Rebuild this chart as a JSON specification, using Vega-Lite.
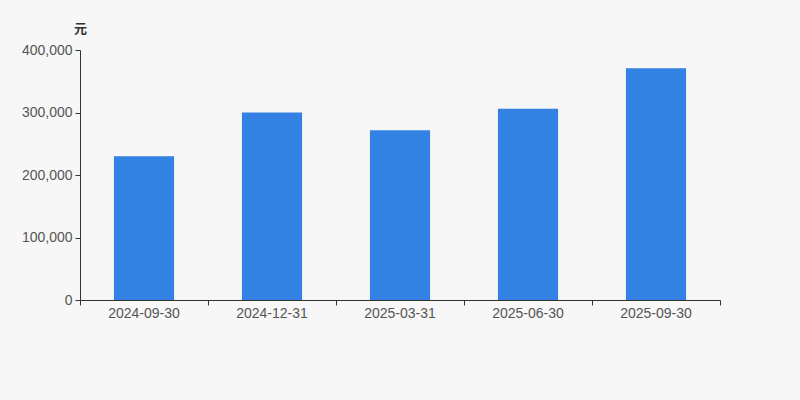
{
  "$schema": "https://vega.github.io/schema/vega-lite/v6.json",
  "width": 640,
  "height": 250,
  "autosize": "none",
  "padding": {"left": 80, "top": 50, "right": 80, "bottom": 100},
  "background": "#f7f7f7",
  "data": {
    "values": [
      {"date": "2024-09-30", "value": 230000},
      {"date": "2024-12-31", "value": 300000},
      {"date": "2025-03-31", "value": 271500},
      {"date": "2025-06-30", "value": 306000},
      {"date": "2025-09-30", "value": 371000}
    ]
  },
  "config": {
    "view": {"stroke": null},
    "font": "Liberation Sans"
  },
  "mark": {"type": "bar", "color": "#3381e3", "width": {"band": 0.47}},
  "encoding": {
    "x": {
      "field": "date",
      "type": "ordinal",
      "sort": null,
      "scale": {"paddingInner": 0, "paddingOuter": 0},
      "axis": {
        "title": null,
        "labelAngle": 0,
        "labelFontSize": 14,
        "labelColor": "#555",
        "labelPadding": 1,
        "domainColor": "#333",
        "tickColor": "#333",
        "tickSize": 5,
        "bandPosition": 1,
        "tickExtra": true
      }
    },
    "y": {
      "field": "value",
      "type": "quantitative",
      "scale": {"domain": [0, 400000]},
      "axis": {
        "title": "元",
        "titleAngle": 0,
        "titleX": 0,
        "titleY": -22,
        "titleAlign": "center",
        "titleBaseline": "middle",
        "titleFont": "Noto Sans CJK SC",
        "titleFontSize": 13,
        "titleFontWeight": "bold",
        "titleColor": "#333",
        "values": [0, 100000, 200000, 300000, 400000],
        "format": ",d",
        "grid": false,
        "labelFontSize": 14,
        "labelColor": "#555",
        "labelPadding": 3,
        "domainColor": "#333",
        "tickColor": "#333",
        "tickSize": 5
      }
    }
  }
}
